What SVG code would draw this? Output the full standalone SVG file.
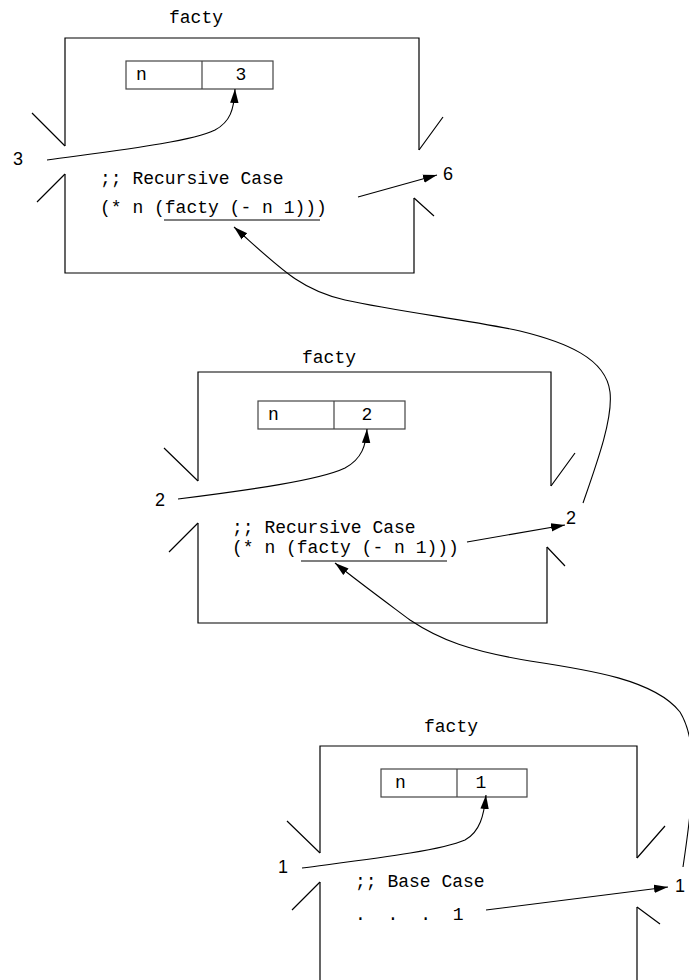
<svg xmlns="http://www.w3.org/2000/svg" width="689" height="980" viewBox="0 0 689 980">
<style>
.frame{fill:none;stroke:#000;stroke-width:1.2}
.cell{fill:none;stroke:#444;stroke-width:1.2}
.mono{font-family:"Liberation Mono","DejaVu Sans Mono",monospace;font-size:18px;fill:#000}
.num{font-family:"Liberation Sans",Arial,sans-serif;font-size:18px;fill:#000}
.conn{fill:none;stroke:#000;stroke-width:1.1}
</style>
<defs>
<marker id="ah" markerUnits="userSpaceOnUse" markerWidth="16" markerHeight="10" refX="14" refY="5" orient="auto">
<path d="M0,0.8 L14,5 L0,9.2 Z" fill="#000"/>
</marker>
</defs>
<rect width="689" height="980" fill="#fff"/>

<g id="frame1">
<text class="mono" x="196" y="23" text-anchor="middle">facty</text>
<path class="frame" d="M65,146 L65,38 L419,38 L419,150 M65,174 L65,273 L414,273 L414,198"/>
<path class="frame" d="M32,113 L65,146 M37,202 L65,174 M419,150 L443,117 M414,198 L434,216"/>
<rect class="cell" x="126" y="61" width="147" height="28"/>
<line class="cell" x1="202" y1="61" x2="202" y2="89"/>
<text class="mono" x="136" y="80">n</text>
<text class="mono" x="241" y="80" text-anchor="middle">3</text>
<text class="mono" x="100" y="184">;; Recursive Case</text>
<text class="mono" x="100" y="213">(* n (facty (- n 1)))</text>
<line class="frame" x1="164" y1="220" x2="320" y2="220"/>
<text class="num" x="18" y="165" text-anchor="middle">3</text>
<text class="num" x="448" y="180" text-anchor="middle">6</text>
</g>

<g id="frame2">
<text class="mono" x="329" y="363" text-anchor="middle">facty</text>
<path class="frame" d="M198,481 L198,372 L551,372 L551,486 M198,523 L198,623 L547,623 L547,547"/>
<path class="frame" d="M164,448 L198,481 M169,552 L198,523 M551,486 L575,453 M547,547 L565,566"/>
<rect class="cell" x="258" y="401" width="147" height="28"/>
<line class="cell" x1="334" y1="401" x2="334" y2="429"/>
<text class="mono" x="268" y="420">n</text>
<text class="mono" x="367" y="420" text-anchor="middle">2</text>
<text class="mono" x="232" y="533">;; Recursive Case</text>
<text class="mono" x="232" y="553">(* n (facty (- n 1)))</text>
<line class="frame" x1="301" y1="561" x2="447" y2="561"/>
<text class="num" x="160" y="506" text-anchor="middle">2</text>
<text class="num" x="571" y="524" text-anchor="middle">2</text>
</g>

<g id="frame3">
<text class="mono" x="451" y="732" text-anchor="middle">facty</text>
<path class="frame" d="M320,853 L320,746 L637,746 L637,858 M320,882 L320,990 M637,907 L637,990"/>
<path class="frame" d="M287,821 L320,853 M292,910 L320,882 M637,858 L665,826 M637,907 L660,924"/>
<rect class="cell" x="381" y="769" width="146" height="28"/>
<line class="cell" x1="457" y1="769" x2="457" y2="797"/>
<text class="mono" x="395" y="788">n</text>
<text class="mono" x="481" y="788" text-anchor="middle">1</text>
<text class="mono" x="355" y="887">;; Base Case</text>
<text class="mono" x="355" y="920" word-spacing="11">. . . 1</text>
<text class="num" x="283" y="873" text-anchor="middle">1</text>
<text class="num" x="680" y="892" text-anchor="middle">1</text>
</g>

<g id="connectors">
<path class="conn" marker-end="url(#ah)" d="M47,160 C120,150 190,142 215,130 C230,122 234,110 235,89"/>
<path class="conn" marker-end="url(#ah)" d="M358,197 L437,175"/>
<path class="conn" marker-end="url(#ah)" d="M583,503 C598,460 613,418 610,392 C606,358 565,342 520,331 C470,320 400,312 345,300 C300,290 280,268 234,227"/>
<path class="conn" marker-end="url(#ah)" d="M178,499 C250,490 320,480 345,468 C362,459 366,445 367,429"/>
<path class="conn" marker-end="url(#ah)" d="M467,542 L565,525"/>
<path class="conn" marker-end="url(#ah)" d="M683,867 C693,800 700,745 680,712 C655,680 590,670 530,661 C470,651 440,640 410,620 C390,605 360,583 335,563"/>
<path class="conn" marker-end="url(#ah)" d="M302,868 C370,859 440,851 465,840 C480,832 484,815 486,795"/>
<path class="conn" marker-end="url(#ah)" d="M486,910 L668,887"/>
</g>
</svg>
